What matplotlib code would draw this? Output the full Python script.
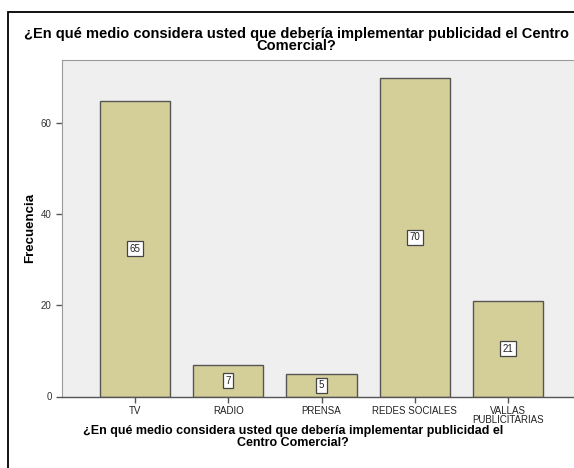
import matplotlib
matplotlib.use("Agg")
import matplotlib.pyplot as plt
from matplotlib.patches import Rectangle

categories = ["TV", "RADIO", "PRENSA", "REDES SOCIALES", "VALLAS\nPUBLICITARIAS"]
values = [65, 7, 5, 70, 21]
yticks = [0, 20, 40, 60]
title = "¿En qué medio considera usted que debería implementar publicidad el Centro\nComercial?"
xlabel = "¿En qué medio considera usted que debería implementar publicidad el\nCentro Comercial?"
ylabel = "Frecuencia"

plt.rcParams['font.family'] = ['Liberation Sans', 'DejaVu Sans']

fig = plt.figure(figsize=(5.74, 4.68), dpi=100)
fig.patches.append(Rectangle((8/574, -0.1), 1.0, (468-12)/468 + 0.1, transform=fig.transFigure,
                             fill=False, edgecolor='black', linewidth=1.3, zorder=0))

ax = fig.add_axes([62/574, (468-396.5)/468, (581-62)/574, (396.5-60)/468])
ax.set_facecolor('#EFEFEF')
x = list(range(len(categories)))
bars = ax.bar(x, values, width=0.75, color='#D4CF99', edgecolor='#555555', linewidth=1.0, zorder=2)
for xi, v in zip(x, values):
    ax.text(xi, v / 2, str(v), ha='center', va='center', fontsize=7, color='#222222', zorder=3,
            bbox=dict(boxstyle='square,pad=0.25', facecolor='white', edgecolor='#444444', linewidth=0.9))

ax.set_xlim(-0.78, 4.78)
ax.set_ylim(0, 73.9)
ax.set_yticks(yticks)
ax.set_xticks(x)
ax.set_xticklabels(categories, fontsize=7, color='#222222', linespacing=0.9)
ax.tick_params(axis='y', labelsize=7, labelcolor='#333333', length=4, color='#555555', width=1)
ax.tick_params(axis='x', length=4, color='#555555', width=1, pad=3)
for s in ['top', 'right', 'left']:
    ax.spines[s].set_color('#999999')
    ax.spines[s].set_linewidth(0.8)
ax.spines['bottom'].set_color('#555555')
ax.spines['bottom'].set_linewidth(1.0)

fig.text(296/574, 1 - 40/468, title, ha='center', va='center', fontsize=10.5, fontweight='bold',
         linespacing=0.9)
fig.text(293/574, 1 - 437/468, xlabel, ha='center', va='center', fontsize=9, fontweight='bold',
         linespacing=0.9)
fig.text(30/574, 1 - 228/468, ylabel, ha='center', va='center', fontsize=9.5, fontweight='bold',
         rotation=90)

fig.savefig("out.png", dpi=100)
